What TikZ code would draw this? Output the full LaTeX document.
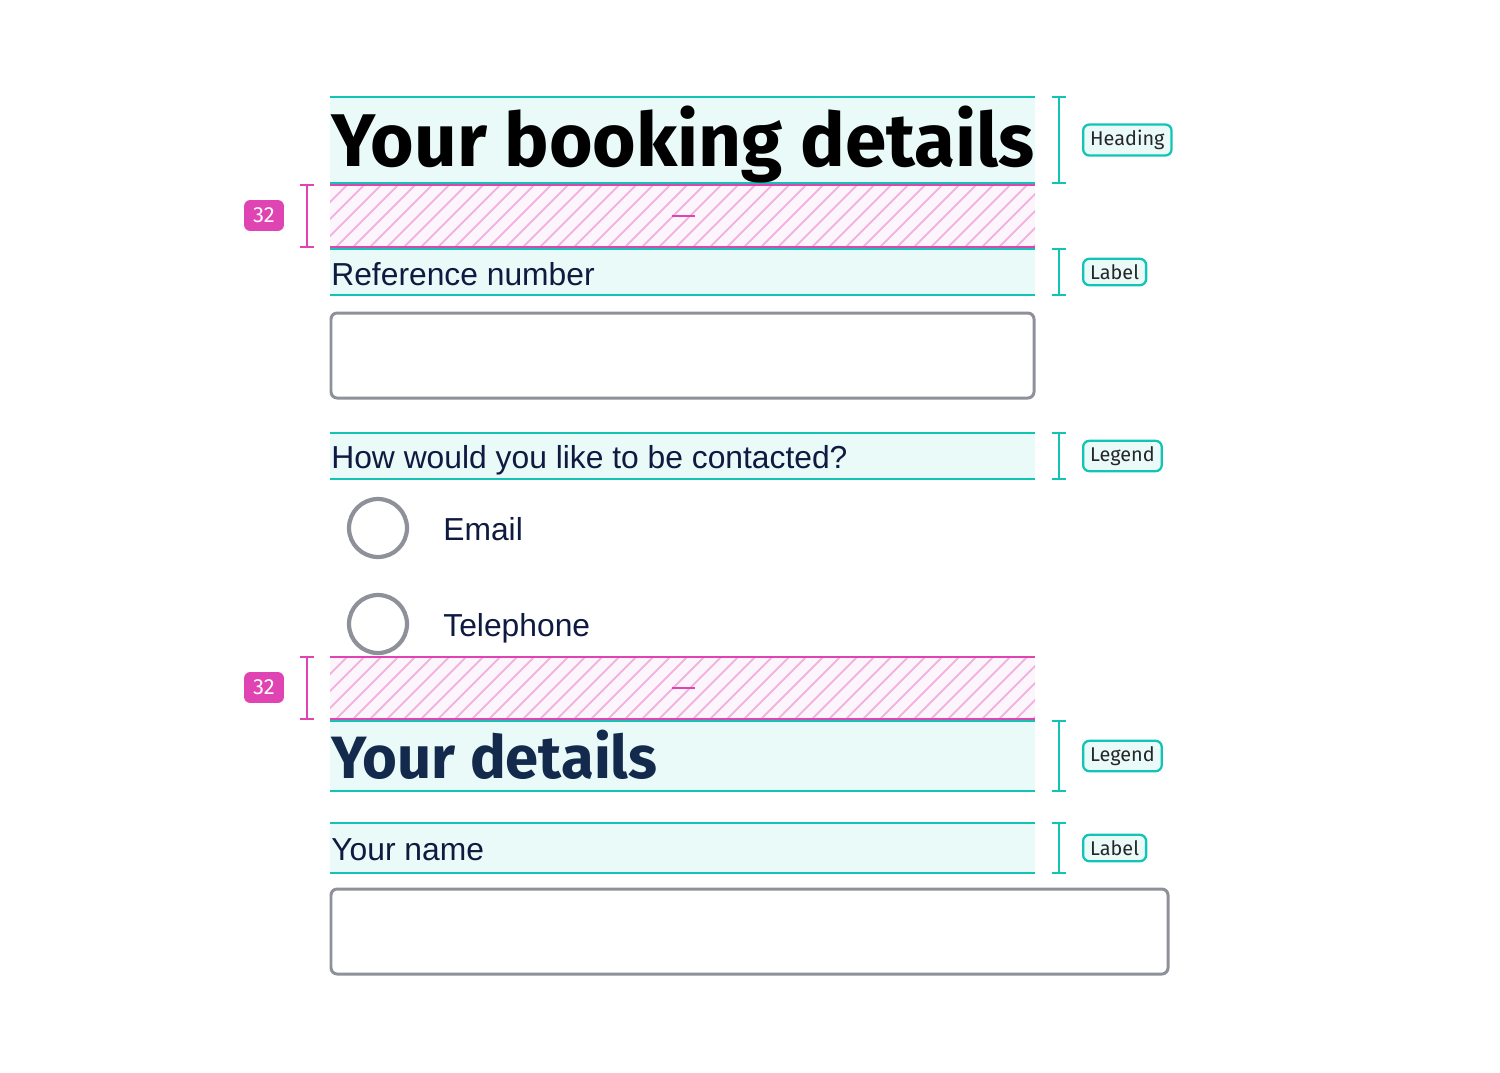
\documentclass[tikz,border=0pt]{standalone}
\usepackage{fontspec}
\setmainfont{Liberation Sans}
\newfontfamily\headfont{Fira Sans}
\newfontfamily\tagfont{Fira Sans}
\definecolor{markteal}{HTML}{12C4B4}
\definecolor{markpink}{HTML}{E043B2}
\definecolor{hatchpink}{HTML}{F2B0DE}
\definecolor{hatchbg}{HTML}{FCF5FB}
\definecolor{boxfill}{HTML}{EAFAF8}
\definecolor{inkblue}{HTML}{0E1A40}
\definecolor{headblue}{HTML}{132A4C}
\definecolor{fieldgrey}{HTML}{8E9199}
\tikzset{
  tealline/.style={draw=markteal, line width=1.3pt},
  pinkline/.style={draw=markpink, line width=1.3pt},
  hatchline/.style={draw=hatchpink, line width=1pt},
  fieldtext/.style={anchor=base west, inner sep=0pt, text=inkblue, font=\fontsize{18.1}{20}\selectfont},
  tagbox/.style={draw=markteal, fill=boxfill, line width=1.3pt, rounded corners=3.5pt, inner xsep=4pt, inner ysep=3.2pt,
    font=\tagfont\fontsize{11.3}{12}\selectfont, text=black!85},
  badge/.style={fill=markpink, rounded corners=3.5pt, minimum width=22.7pt, minimum height=17.6pt, inner sep=0pt,
    font=\tagfont\fontsize{12.5}{13}\selectfont, text=white},
  inputbox/.style={draw=fieldgrey, line width=1.7pt, rounded corners=3.5pt},
  radio/.style={circle, draw=fieldgrey, line width=2.4pt, minimum size=33pt, inner sep=0pt},
}
\begin{document}
\begin{tikzpicture}[x=0.02cm, y=-0.02cm]
  \useasboundingbox (0,0) rectangle (1500,1072);
  % highlighted bands
  \fill[boxfill] (330,97) rectangle (1035,183);
  \fill[boxfill] (330,249) rectangle (1035,295);
  \fill[boxfill] (330,433) rectangle (1035,479);
  \fill[boxfill] (330,721) rectangle (1035,791);
  \fill[boxfill] (330,823) rectangle (1035,873);
  \foreach \top/\bot in {97/183, 249/295, 433/479, 721/791, 823/873} {
    \draw[tealline] (330,\top) -- (1035,\top);
    \draw[tealline] (330,\bot) -- (1035,\bot);
    \draw[tealline] (1059,\top) -- (1059,\bot);
    \draw[tealline] (1052,\top) -- (1066,\top);
    \draw[tealline] (1052,\bot) -- (1066,\bot);
  }
  % spacing
  \foreach \top/\bot in {185/247, 657/719} {
    \fill[hatchbg] (330,\top) rectangle (1035,\bot);
    \begin{scope}
      \clip (330,\top) rectangle (1035,\bot);
      \foreach \i in {0,...,45}
        \draw[hatchline] (330+\i*17-62,\bot) -- ++(62,-62);
    \end{scope}
    \draw[pinkline] (330,\top) -- (1035,\top);
    \draw[pinkline] (330,\bot) -- (1035,\bot);
    \draw[pinkline] (307,\top) -- (307,\bot);
    \draw[pinkline] (300,\top) -- (314,\top);
    \draw[pinkline] (300,\bot) -- (314,\bot);
  }
  \draw[pinkline] (672,216) -- (695,216);
  \draw[pinkline] (672,688) -- (695,688);
  \node[badge] (gapA) at (264,215.5) {32};
  \node[badge] (gapB) at (264,687.5) {32};

  \node[anchor=base west, inner sep=0pt, font=\headfont\bfseries\fontsize{42.5}{46}\selectfont]
    (heading) at (331,166) {Your booking details};
  \node[fieldtext] (refLabel) at (331,285) {Reference number};
  \draw[inputbox] (331,313) rectangle (1034,398);
  \node[fieldtext] (contactLegend) at (331,468) {How would you like to be contacted?};
  \node[radio] (emailRadio) at (378,528) {};
  \node[radio] (phoneRadio) at (378,624) {};
  \node[fieldtext] (emailText) at (443,540) {Email};
  \node[fieldtext] (phoneText) at (443,636) {Telephone};
  \node[anchor=base west, inner sep=0pt, text=headblue, font=\headfont\bfseries\fontsize{34}{38}\selectfont]
    (detailsLegend) at (331,778) {Your details};
  \node[fieldtext] (nameLabel) at (331,860) {Your name};
  \draw[inputbox] (331,889) rectangle (1168,974);

  \node[tagbox, anchor=west] (tagHeading) at (1082,140) {Heading};
  \node[tagbox, anchor=west] (tagRef) at (1082,272) {Label};
  \node[tagbox, anchor=west] (tagContact) at (1082,456) {Legend};
  \node[tagbox, anchor=west] (tagDetails) at (1082,756) {Legend};
  \node[tagbox, anchor=west] (tagName) at (1082,848) {Label};
\end{tikzpicture}
\end{document}
